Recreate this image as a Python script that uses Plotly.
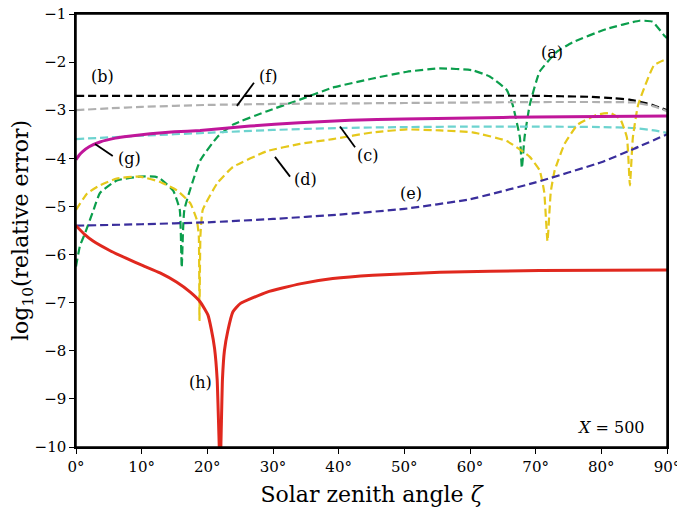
import plotly.graph_objects as go

# (a) green dashed
a_x = [0, 0.6, 1.4, 2.6, 3.65, 6.2, 9.7, 12.0, 12.8, 14.8, 15.8, 16.1, 16.5, 18.9, 21.5, 23.9, 29.1, 34.1, 39.1,
       45.2, 50.4, 55.4, 60.4, 63.0, 65.6, 66.5, 67.6, 67.9, 68.3, 69.1, 70.6, 73.2, 75.6, 80.8, 85.8, 87.8, 89.6, 90]
a_y = [-6.25, -5.82, -5.55, -5.1, -4.72, -4.46, -4.38, -4.38, -4.42, -4.67, -5.07, -6.27, -5.07, -4.05, -3.56, -3.3, -3.02, -2.78, -2.53,
       -2.34, -2.2, -2.13, -2.17, -2.3, -2.58, -2.89, -3.57, -4.2, -3.57, -2.89, -2.2, -1.79, -1.59, -1.31, -1.14, -1.16, -1.45, -1.5]

# (b) black dashed
b_x = [0, 10, 20, 30, 40, 50, 60, 70, 74, 78, 82, 84.3, 86, 87.8, 89, 90]
b_y = [-2.70, -2.70, -2.70, -2.70, -2.70, -2.70, -2.70, -2.70, -2.71, -2.72, -2.75, -2.78, -2.83, -2.89, -2.95, -3.0]

# (c) cyan dashed
c_x = [0, 10, 20, 30, 40, 50, 60, 70, 80, 85, 88, 90]
c_y = [-3.6, -3.53, -3.47, -3.41, -3.37, -3.35, -3.34, -3.34, -3.35, -3.37, -3.42, -3.47]

# (d) yellow dashed
d_x = [0, 1.7, 3.65, 6.2, 9.7, 12.8, 15.4, 17.4, 18.4, 18.7, 18.8, 18.95, 19.3, 21.5, 23.9, 29.1, 34.1, 39.1,
       45.2, 50.4, 55.4, 60.4, 65.6, 69.1, 70.6, 71.3, 71.8, 72.3, 72.9, 74.4, 76.4, 79.4, 81.4, 82.9, 83.9,
       84.35, 84.8, 85.6, 88.0, 89.5, 90]
d_y = [-5.07, -4.73, -4.56, -4.42, -4.38, -4.49, -4.67, -4.93, -5.28, -5.61, -7.36, -5.6, -5.07, -4.52, -4.18, -3.85, -3.7, -3.6,
       -3.46, -3.4, -3.42, -3.46, -3.64, -3.97, -4.25, -4.7, -5.72, -4.7, -4.25, -3.7, -3.3, -3.09, -3.06, -3.19, -3.57,
       -4.56, -3.57, -2.89, -2.07, -1.96, -1.95]

# (e) navy dashed
e_x = [0, 10, 20, 30, 40, 50, 60, 70, 80, 85, 90]
e_y = [-5.40, -5.37, -5.33, -5.26, -5.17, -5.05, -4.85, -4.5, -4.08, -3.8, -3.5]

# (f) grey dashed
f_x = [0, 5, 10, 20, 30, 40, 50, 60, 70, 80, 85, 88, 90]
f_y = [-3.0, -2.96, -2.93, -2.89, -2.87, -2.86, -2.85, -2.84, -2.83, -2.83, -2.84, -2.92, -3.02]

# (g) magenta solid
g_x = [0, 0.5, 1, 2, 3.65, 6, 8, 11.3, 15, 18.9, 26.5, 34, 41.7, 50, 60, 70, 80, 90]
g_y = [-4.03, -3.93, -3.86, -3.76, -3.66, -3.58, -3.54, -3.49, -3.45, -3.42, -3.33, -3.26, -3.21, -3.18, -3.16, -3.14, -3.13, -3.12]

# (h) red solid
h_x = [0, 1.3, 2.6, 5.2, 7.7, 10.2, 12.8, 15.3, 17.4, 18.9, 20.1, 20.6, 21.1, 21.5, 21.95,
       22.3, 22.6, 23.1, 23.9, 25.0, 29.1, 34.1, 39.1, 45.2, 55.4, 70.6, 90]
h_y = [-5.4, -5.58, -5.72, -5.92, -6.08, -6.23, -6.38, -6.57, -6.78, -6.98, -7.26, -7.55, -7.95, -8.6, -10.5,
       -8.6, -8.0, -7.6, -7.19, -7.02, -6.78, -6.61, -6.5, -6.43, -6.37, -6.33, -6.32]

x_ticks = [0, 10, 20, 30, 40, 50, 60, 70, 80, 90]
x_labels = [f"{v}°" for v in x_ticks]
y_ticks = [-1, -2, -3, -4, -5, -6, -7, -8, -9, -10]

FONT = "DejaVu Serif, Liberation Serif, serif"
DASH = "8px,4px"

fig = go.Figure()

series = [
    (a_x, a_y, "#0b9e4c", DASH, 2.2),
    (b_x, b_y, "#000000", DASH, 2.2),
    (c_x, c_y, "#6dd3cf", DASH, 2.2),
    (d_x, d_y, "#e5c81b", DASH, 2.2),
    (e_x, e_y, "#3a2e9c", DASH, 2.2),
    (f_x, f_y, "#b0b0b0", DASH, 2.2),
    (g_x, g_y, "#c0169a", "solid", 3),
    (h_x, h_y, "#e0281e", "solid", 3),
]
for xs, ys, col, dash, w in series:
    fig.add_trace(go.Scatter(x=xs, y=ys, mode="lines",
                             line=dict(color=col, dash=dash, width=w, shape="spline", smoothing=0.4),
                             showlegend=False, hoverinfo="skip"))

# curve labels
labels = [
    ("(a)", 72.5, -1.8), ("(b)", 4.1, -2.29), ("(c)", 44.4, -3.95), ("(d)", 35.0, -4.44),
    ("(e)", 51.0, -4.73), ("(f)", 29.2, -2.29), ("(g)", 8.2, -4.01), ("(h)", 18.9, -8.66),
]
for txt, lx, ly in labels:
    fig.add_annotation(x=lx, y=ly, text=txt, showarrow=False,
                       font=dict(family=FONT, size=16, color="black"))

# leader lines
leaders = [
    (24.5, -2.91, 27.1, -2.43),
    (2.9, -3.70, 5.6, -3.95),
    (30.3, -3.97, 32.6, -4.38),
    (40.2, -3.34, 42.5, -3.77),
]
for x0, y0, x1, y1 in leaders:
    fig.add_shape(type="line", x0=x0, y0=y0, x1=x1, y1=y1, xref="x", yref="y",
                  line=dict(color="black", width=1.8))

# frame around the plot area
fig.add_shape(type="rect", x0=0, y0=0, x1=1, y1=1, xref="paper", yref="paper",
              line=dict(color="black", width=1.5), layer="above")

fig.add_annotation(x=87.0, y=-9.6, text="<i>X</i> = 500", showarrow=False, xanchor="right",
                   font=dict(family=FONT, size=16, color="black"))

# page body adds 8px on top/left, so the figure is 8px smaller
fig.update_layout(
    width=677, height=506,
    margin=dict(l=68, r=18, t=6, b=67),
    paper_bgcolor="white", plot_bgcolor="white",
    font=dict(family=FONT, size=15, color="black"),
)
fig.update_xaxes(
    range=[0, 90], tickvals=x_ticks, ticktext=x_labels, automargin=False, ticklabeloverflow="allow",
    showgrid=False, zeroline=False, showline=True, linecolor="black", linewidth=1.5, mirror=True,
    ticks="outside", ticklen=5, tickcolor="black",
    title=dict(text="Solar zenith angle <i>ζ</i>", font=dict(family=FONT, size=22), standoff=12),
)
fig.update_yaxes(
    range=[-10, -1], tickvals=y_ticks, automargin=False, ticklabeloverflow="allow",
    showgrid=False, zeroline=False, showline=True, linecolor="black", linewidth=1.5, mirror=True,
    ticks="outside", ticklen=5, tickcolor="black",
    title=dict(text="log<sub>10</sub>(relative error)", font=dict(family=FONT, size=22), standoff=6),
)

fig.write_html("out.html")
